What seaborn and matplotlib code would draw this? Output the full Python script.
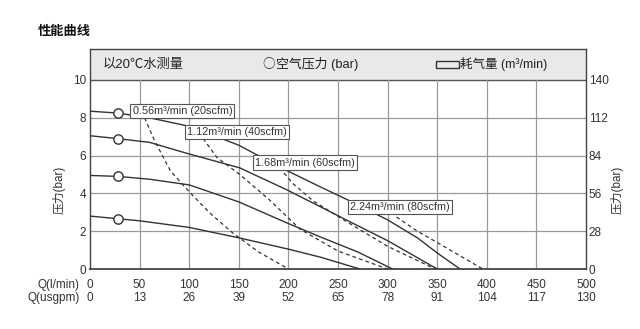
import numpy as np
import pandas as pd
import matplotlib
matplotlib.use("Agg")
import matplotlib.pyplot as plt
import seaborn as sns

# ---------------- data ----------------
flow_ticks = [0, 50, 100, 150, 200, 250, 300, 350, 400, 450, 500]
usgpm_ticks = [0, 13, 26, 39, 52, 65, 78, 91, 104, 117, 130]
left_ticks = [0, 2, 4, 6, 8, 10]
right_ticks = [0, 28, 56, 84, 112, 140]

# solid pressure curves (air supply pressure)
a_x = [0, 28, 60, 100, 150, 191, 230, 262, 300, 330, 350, 373]
a_y = [8.35, 8.25, 8.0, 7.55, 6.55, 5.4, 4.4, 3.6, 2.6, 1.65, 0.85, 0]
b_x = [0, 28, 60, 99, 151, 198, 232, 262, 300, 350]
b_y = [7.05, 6.9, 6.7, 6.1, 5.35, 4.2, 3.3, 2.5, 1.5, 0]
c_x = [0, 28, 60, 100, 150, 198, 232, 270, 305]
c_y = [4.95, 4.9, 4.75, 4.45, 3.55, 2.45, 1.7, 0.9, 0]
d_x = [0, 28, 50, 100, 150, 200, 232, 272]
d_y = [2.8, 2.66, 2.55, 2.2, 1.65, 1.05, 0.63, 0]
marker_x = [28, 28, 28, 28]
marker_y = [8.25, 6.9, 4.9, 2.66]

# dashed air consumption curves
q056_x = [55, 65, 81, 98, 120, 144, 170, 200]
q056_y = [8.0, 6.8, 5.2, 4.2, 3.0, 1.9, 0.9, 0]
q112_x = [114, 128, 151, 180, 212, 250, 300]
q112_y = [6.9, 5.9, 5.0, 3.7, 2.1, 0.95, 0]
q168_x = [191, 205, 225, 262, 300, 348]
q168_y = [5.35, 4.5, 3.6, 2.4, 1.2, 0]
q224_x = [309, 330, 350, 396]
q224_y = [2.75, 2.0, 1.4, 0]

labels = ["0.56m³/min (20scfm)", "1.12m³/min (40scfm)",
          "1.68m³/min (60scfm)", "2.24m³/min (80scfm)"]
label_x = [43, 98, 166, 262]
label_y = [8.36, 7.25, 5.63, 3.28]

# ---------------- style ----------------
sns.set_theme(style="white")
plt.rcParams['font.family'] = ['Liberation Sans', 'Noto Sans CJK SC', 'DejaVu Sans']
plt.rcParams['axes.unicode_minus'] = False
tc = "#333333"

fig = plt.figure(figsize=(6.4, 3.29), dpi=100)
ax = fig.add_axes([90/640, 1-269/329, (586-90)/640, (269-49)/329])

top = 11.64
ax.set_xlim(0, 500)
ax.set_ylim(0, top)

# header band
ax.axhspan(10, top, color="#e9e9e9", zorder=0)
ax.axhline(10, color="#555555", lw=1.0, zorder=1)

# grid
for xv in flow_ticks[1:-1]:
    ax.plot([xv, xv], [0, 10], color="#9a9a9a", lw=0.9, zorder=1)
for yv in left_ticks[1:-1]:
    ax.plot([0, 500], [yv, yv], color="#9a9a9a", lw=0.9, zorder=1)

lc = "#333333"
solid = [(a_x, a_y), (b_x, b_y), (c_x, c_y), (d_x, d_y)]
for xs, ys in solid:
    sns.lineplot(x=xs, y=ys, ax=ax, color=lc, lw=1.0, sort=False, zorder=3)
dashed = [(q056_x, q056_y), (q112_x, q112_y), (q168_x, q168_y), (q224_x, q224_y)]
for xs, ys in dashed:
    sns.lineplot(x=xs, y=ys, ax=ax, color=lc, lw=0.9, sort=False, zorder=3,
                 linestyle=(0, (3, 2.5)))
sns.scatterplot(x=marker_x, y=marker_y, ax=ax, s=45, facecolor="white",
                edgecolor=lc, linewidth=1.0, zorder=5)

for t, xv, yv in zip(labels, label_x, label_y):
    ax.text(xv, yv, t, fontsize=7.8, color=tc, va="center", ha="left",
            zorder=6,
            bbox=dict(boxstyle="square,pad=0.2", fc="white", ec="#555555", lw=0.8))

# header texts
ax.text(13, 10.82, "以20℃水测量", fontsize=9.5, va="center", ha="left", color="#222222")
ax.text(174, 10.82, "○", fontsize=9, va="center", ha="left", color="#222222",
        family=['Noto Sans CJK SC', 'DejaVu Sans'])
ax.text(188, 10.82, "空气压力 (bar)", fontsize=9.3, va="center", ha="left", color="#222222")
ax.add_patch(plt.Rectangle((349, 10.62), 23, 0.38, fill=False, ec="#333333", lw=1.0))
ax.text(373, 10.82, "耗气量 (m³/min)", fontsize=9, va="center", ha="left", color="#222222")

for s in ax.spines.values():
    s.set_color("#444444")
    s.set_linewidth(1.0)
ax.spines['bottom'].set_linewidth(1.3)

# ticks
ax.set_yticks(left_ticks)
ax.set_yticklabels([str(v) for v in left_ticks], fontsize=8.5, color=tc)
ax.set_xticks(flow_ticks)
ax.set_xticklabels([f"{a}\n{b}" for a, b in zip(flow_ticks, usgpm_ticks)],
                   fontsize=8.5, color=tc, linespacing=1.15)
ax.tick_params(axis="y", length=0, pad=3)
ax.tick_params(axis="x", length=0, pad=7)
ax.set_ylabel("压力(bar)", fontsize=8.5, color=tc)

ax2 = ax.twinx()
ax2.set_ylim(0, top * 14)
ax2.set_yticks(right_ticks)
ax2.set_yticklabels([str(v) for v in right_ticks], fontsize=8.5, color=tc)
ax2.tick_params(axis="y", length=0, pad=2)
ax2.set_ylabel("压力(bar)", fontsize=8.5, color=tc, rotation=90)
ax2.yaxis.set_label_coords(1.05, 0.36)
for s in ax2.spines.values():
    s.set_visible(False)
ax.yaxis.set_label_coords(-0.05, 0.36)

fig.text(80/640, 1-285/329, "Q(l/min)", fontsize=8.5, ha="right", va="center", color=tc)
fig.text(80/640, 1-297.5/329, "Q(usgpm)", fontsize=8.5, ha="right", va="center", color=tc)

fig.text(38/640, 1-32/329, "性能曲线", fontsize=9.5, fontweight="bold", ha="left",
         va="center", color="#111111")

fig.savefig("out.png", dpi=100)
